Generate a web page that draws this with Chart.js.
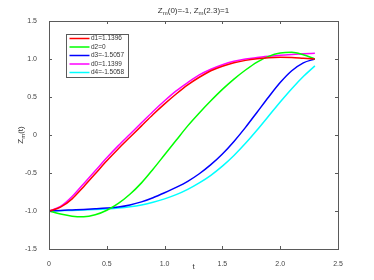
<!DOCTYPE html>
<html>
<head>
<meta charset="utf-8">
<script src="https://cdn.jsdelivr.net/npm/chart.js@4"></script>
<style>
  html, body { margin: 0; padding: 0; background: #fff; }
</style>
</head>
<body>
<canvas id="ChartZm" width="374" height="280"></canvas>
<script>
// ---------------- data ------------------------
const tValues = [0, 0.1, 0.2, 0.3, 0.4, 0.5, 0.6, 0.7, 0.8, 0.9, 1.0, 1.1, 1.2, 1.3, 1.4, 1.5, 1.6, 1.7, 1.8, 1.9, 2.0, 2.1, 2.2, 2.3];

const d1Values = [-1, -0.95, -0.84, -0.68, -0.51, -0.34, -0.18, -0.03, 0.12, 0.27, 0.41, 0.54, 0.66, 0.76, 0.845, 0.905, 0.95, 0.982, 1.003, 1.016, 1.022, 1.02, 1.01, 1.0];
const d2Values = [-1, -1.04, -1.068, -1.075, -1.05, -0.99, -0.9, -0.78, -0.63, -0.45, -0.26, -0.07, 0.12, 0.29, 0.45, 0.6, 0.735, 0.855, 0.96, 1.035, 1.078, 1.088, 1.055, 1.0];
const d3Values = [-1, -0.992, -0.986, -0.98, -0.972, -0.962, -0.947, -0.92, -0.88, -0.825, -0.76, -0.69, -0.61, -0.51, -0.39, -0.25, -0.085, 0.1, 0.3, 0.5, 0.69, 0.845, 0.95, 1.0];
const d0Values = [-1, -0.94, -0.81, -0.64, -0.47, -0.3, -0.14, 0.01, 0.16, 0.31, 0.45, 0.58, 0.69, 0.79, 0.865, 0.925, 0.97, 1.0, 1.02, 1.036, 1.05, 1.06, 1.068, 1.075];
const d4Values = [-1, -0.996, -0.992, -0.987, -0.981, -0.973, -0.962, -0.945, -0.92, -0.885, -0.84, -0.785, -0.715, -0.63, -0.53, -0.41, -0.27, -0.11, 0.065, 0.25, 0.435, 0.61, 0.77, 0.91];

const seriesLabels = ['d1=1.1396', 'd2=0', 'd3=-1.5057', 'd0=1.1399', 'd4=-1.5058'];
const seriesColors = ['#ff0000', '#00ff00', '#0000ff', '#ff00ff', '#00ffff'];
const seriesValues = [d1Values, d2Values, d3Values, d0Values, d4Values];

const xTicks = [0, 0.5, 1, 1.5, 2, 2.5];
const yTicks = [-1.5, -1, -0.5, 0, 0.5, 1, 1.5];

const axisColor = '#5a5a5a';
const fontFamily = '"Liberation Sans", Arial, sans-serif';

// ---------------- helpers ------------------------
function drawRich(ctx, parts, x, y, size) {
    // parts: [text, isSub]
    let total = 0;
    parts.forEach(p => {
        ctx.font = (p[1] ? size * 0.75 : size) + 'px ' + fontFamily;
        total += ctx.measureText(p[0]).width;
    });
    let cx = x - total / 2;
    ctx.textAlign = 'left';
    ctx.textBaseline = 'middle';
    parts.forEach(p => {
        ctx.font = (p[1] ? size * 0.75 : size) + 'px ' + fontFamily;
        ctx.fillText(p[0], cx, p[1] ? y + size * 0.35 : y);
        cx += ctx.measureText(p[0]).width;
    });
}

// ---------------- matlab look plugin ------------------------
const matlabAxes = {
    id: 'matlabAxes',
    afterDraw(chart) {
        const ctx = chart.ctx;
        const a = chart.chartArea;
        const xs = chart.scales.x;
        const ys = chart.scales.y;
        ctx.save();

        // box
        ctx.strokeStyle = axisColor;
        ctx.lineWidth = 1;
        ctx.strokeRect(Math.round(a.left) + 0.5, Math.round(a.top) + 0.5,
            Math.round(a.right - a.left), Math.round(a.bottom - a.top));

        // inward ticks
        const tl = 3;
        ctx.beginPath();
        xTicks.forEach(v => {
            const px = Math.round(xs.getPixelForValue(v)) + 0.5;
            ctx.moveTo(px, a.bottom); ctx.lineTo(px, a.bottom - tl);
            ctx.moveTo(px, a.top); ctx.lineTo(px, a.top + tl);
        });
        yTicks.forEach(v => {
            const py = Math.round(ys.getPixelForValue(v)) + 0.5;
            ctx.moveTo(a.left, py); ctx.lineTo(a.left + tl, py);
            ctx.moveTo(a.right, py); ctx.lineTo(a.right - tl, py);
        });
        ctx.stroke();

        // title
        ctx.fillStyle = '#333';
        drawRich(ctx, [['Z', false], ['m', true], ['(0)=-1, Z', false], ['m', true], ['(2.3)=1', false]],
            (a.left + a.right) / 2, 11, 8);

        // x label
        ctx.font = '8px ' + fontFamily;
        ctx.textAlign = 'center';
        ctx.textBaseline = 'middle';
        ctx.fillText('t', (a.left + a.right) / 2, 267);

        // y label
        ctx.save();
        ctx.translate(21, (a.top + a.bottom) / 2);
        ctx.rotate(-Math.PI / 2);
        drawRich(ctx, [['Z', false], ['m', true], ['(t)', false]], 0, 0, 8);
        ctx.restore();

        // legend
        const bx = 66.5, by = 34.5, bw = 62, bh = 43;
        ctx.fillStyle = '#fff';
        ctx.fillRect(bx, by, bw, bh);
        ctx.strokeStyle = axisColor;
        ctx.lineWidth = 1;
        ctx.strokeRect(bx, by, bw, bh);
        chart.data.datasets.forEach((ds, i) => {
            const ry = 38.5 + i * 8.5;
            ctx.strokeStyle = ds.borderColor;
            ctx.lineWidth = 1.5;
            ctx.beginPath();
            ctx.moveTo(69.5, ry); ctx.lineTo(89.5, ry);
            ctx.stroke();
            ctx.fillStyle = '#333';
            ctx.font = '6.5px ' + fontFamily;
            ctx.textAlign = 'left';
            ctx.textBaseline = 'middle';
            ctx.fillText(ds.label, 91, ry);
        });
        ctx.restore();
    }
};

// ---------------- chart ------------------------
const graficoZm = document.getElementById('ChartZm');

new Chart(graficoZm, {
    type: 'line',
    data: {
        datasets: seriesValues.map((vals, i) => ({
            label: seriesLabels[i],
            data: tValues.map((t, j) => ({ x: t, y: vals[j] })),
            borderColor: seriesColors[i],
            backgroundColor: seriesColors[i],
            borderWidth: 1.5,
            pointRadius: 0,
            cubicInterpolationMode: 'monotone',
            fill: false
        }))
    },
    options: {
        responsive: false,
        animation: false,
        devicePixelRatio: 1,
        layout: {
            padding: { top: 21, right: 36, left: 0, bottom: 0 }
        },
        scales: {
            x: {
                type: 'linear',
                min: 0,
                max: 2.5,
                afterFit: s => { s.height = 31; },
                afterBuildTicks: s => { s.ticks = xTicks.map(v => ({ value: v })); },
                ticks: {
                    color: '#444',
                    font: { family: fontFamily, size: 7 },
                    padding: 3,
                    maxRotation: 0
                },
                grid: { display: false },
                border: { display: false }
            },
            y: {
                type: 'linear',
                min: -1.5,
                max: 1.5,
                afterFit: s => { s.width = 49; },
                afterBuildTicks: s => { s.ticks = yTicks.map(v => ({ value: v })); },
                ticks: {
                    color: '#444',
                    font: { family: fontFamily, size: 7 },
                    padding: 4
                },
                grid: { display: false },
                border: { display: false }
            }
        },
        plugins: {
            legend: { display: false },
            title: { display: false },
            tooltip: { enabled: false }
        }
    },
    plugins: [matlabAxes]
});
</script>
</body>
</html>
